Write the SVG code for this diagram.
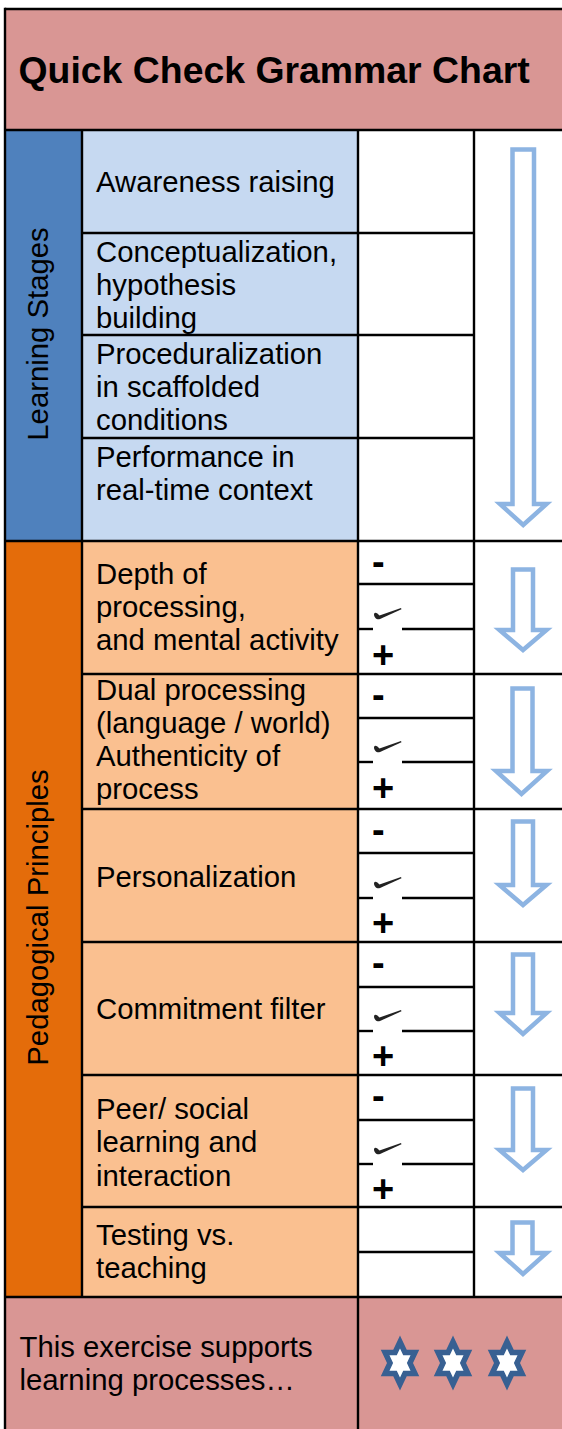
<svg xmlns="http://www.w3.org/2000/svg" xmlns:xlink="http://www.w3.org/1999/xlink" width="562" height="1429" viewBox="0 0 562 1429">
<style>
.ln{stroke:#000;stroke-width:2.4;fill:none}
.t{font-family:"Liberation Sans",Arial,sans-serif;font-size:29.3px;fill:#000}
.ttl{font-family:"Liberation Sans",Arial,sans-serif;font-size:37.4px;font-weight:bold;fill:#000}
.sym{font-family:"Liberation Sans",Arial,sans-serif;font-size:38px;font-weight:bold;fill:#000}
.arr{fill:#fff;stroke:#8DB4E2;stroke-width:4.5;stroke-linejoin:miter}
.star{fill:#fff;stroke:#376092;stroke-width:5.5;stroke-linejoin:miter}
.chk{fill:#222}
</style>
<defs>
<filter id="soft" x="-20%" y="-20%" width="140%" height="140%"><feGaussianBlur stdDeviation="0.7"/></filter>
<path id="starP" d="M0,-21 L4.97,-10.5 L14.9,-10.5 L9.94,0 L14.9,10.5 L4.97,10.5 L0,21 L-4.97,10.5 L-14.9,10.5 L-9.94,0 L-14.9,-10.5 L-4.97,-10.5 Z"/>
<path id="chkP" class="chk" d="M1,-15 C2,-17.5 4.5,-15.5 6.5,-13.5 L28,-21 L28.5,-19.8 L7,-10 C4,-9 1,-11 1,-15 Z"/>
</defs>

<rect x="0" y="0" width="562" height="1429" fill="#fff"/>

<g id="header">
<rect x="5" y="9" width="560" height="121" fill="#D99694"/>
<text class="ttl" x="18.5" y="83">Quick Check Grammar Chart</text>
</g>

<g id="learning-stages">
<rect x="5" y="130" width="77" height="411" fill="#4F81BD"/>
<rect x="82" y="130" width="276" height="411" fill="#C6D9F1"/>
<text class="t" transform="translate(47.5,334) rotate(-90)" text-anchor="middle">Learning Stages</text>
</g>

<g id="stage-awareness">
<text class="t" x="96" y="192">Awareness raising</text>
</g>
<g id="stage-conceptualization">
<text class="t" x="96" y="262">Conceptualization,</text>
<text class="t" x="96" y="295">hypothesis</text>
<text class="t" x="96" y="328">building</text>
</g>
<g id="stage-proceduralization">
<text class="t" x="96" y="364">Proceduralization</text>
<text class="t" x="96" y="397">in scaffolded</text>
<text class="t" x="96" y="430">conditions</text>
</g>
<g id="stage-performance">
<text class="t" x="96" y="467">Performance in</text>
<text class="t" x="96" y="500">real-time context</text>
</g>

<g id="pedagogical-principles">
<rect x="5" y="541" width="77" height="756" fill="#E46C0A"/>
<rect x="82" y="541" width="276" height="756" fill="#FAC090"/>
<text class="t" transform="translate(48,917.5) rotate(-90)" text-anchor="middle">Pedagogical Principles</text>
</g>

<g id="principle-depth">
<text class="t" x="96" y="584">Depth of</text>
<text class="t" x="96" y="617">processing,</text>
<text class="t" x="96" y="650">and mental activity</text>
</g>
<g id="principle-dual">
<text class="t" x="96" y="700">Dual processing</text>
<text class="t" x="96" y="733">(language / world)</text>
<text class="t" x="96" y="766">Authenticity of</text>
<text class="t" x="96" y="799">process</text>
</g>
<g id="principle-personalization">
<text class="t" x="96" y="887">Personalization</text>
</g>
<g id="principle-commitment">
<text class="t" x="96" y="1019">Commitment filter</text>
</g>
<g id="principle-peer">
<text class="t" x="96" y="1119">Peer/ social</text>
<text class="t" x="96" y="1152">learning and</text>
<text class="t" x="96" y="1186">interaction</text>
</g>
<g id="principle-testing">
<text class="t" x="96" y="1245">Testing vs.</text>
<text class="t" x="96" y="1278">teaching</text>
</g>

<g id="footer">
<rect x="5" y="1297" width="560" height="132" fill="#D99694"/>
<text class="t" x="19.5" y="1357">This exercise supports</text>
<text class="t" x="19.5" y="1390">learning processes…</text>
<g filter="url(#soft)">
<use xlink:href="#starP" class="star" transform="translate(400,1363)"/>
<use xlink:href="#starP" class="star" transform="translate(453,1363)"/>
<use xlink:href="#starP" class="star" transform="translate(507,1363)"/>
</g>
</g>

<g id="grid">
<line class="ln" x1="5" y1="7.8" x2="5" y2="1429"/>
<line class="ln" x1="5" y1="9" x2="562" y2="9"/>
<line class="ln" x1="5" y1="130" x2="562" y2="130"/>
<line class="ln" x1="82" y1="130" x2="82" y2="1297"/>
<line class="ln" x1="358" y1="130" x2="358" y2="1429"/>
<line class="ln" x1="474" y1="130" x2="474" y2="1297"/>
<line class="ln" x1="5" y1="541" x2="562" y2="541"/>
<line class="ln" x1="5" y1="1297" x2="562" y2="1297"/>
<line class="ln" x1="82" y1="233" x2="474" y2="233"/>
<line class="ln" x1="82" y1="335" x2="474" y2="335"/>
<line class="ln" x1="82" y1="438" x2="474" y2="438"/>
<line class="ln" x1="82" y1="674" x2="562" y2="674"/>
<line class="ln" x1="82" y1="809" x2="562" y2="809"/>
<line class="ln" x1="82" y1="942" x2="562" y2="942"/>
<line class="ln" x1="82" y1="1075" x2="562" y2="1075"/>
<line class="ln" x1="82" y1="1207" x2="562" y2="1207"/>
<line class="ln" x1="358" y1="584" x2="474" y2="584"/>
<line class="ln" x1="358" y1="718" x2="474" y2="718"/>
<line class="ln" x1="358" y1="853" x2="474" y2="853"/>
<line class="ln" x1="358" y1="987" x2="474" y2="987"/>
<line class="ln" x1="358" y1="1120" x2="474" y2="1120"/>
<line class="ln" x1="358" y1="1252" x2="474" y2="1252"/>
<line class="ln" x1="358" y1="629" x2="373" y2="629"/><line class="ln" x1="402" y1="629" x2="474" y2="629"/>
<line class="ln" x1="358" y1="762" x2="373" y2="762"/><line class="ln" x1="402" y1="762" x2="474" y2="762"/>
<line class="ln" x1="358" y1="898" x2="373" y2="898"/><line class="ln" x1="402" y1="898" x2="474" y2="898"/>
<line class="ln" x1="358" y1="1031" x2="373" y2="1031"/><line class="ln" x1="402" y1="1031" x2="474" y2="1031"/>
<line class="ln" x1="358" y1="1164" x2="373" y2="1164"/><line class="ln" x1="402" y1="1164" x2="474" y2="1164"/>
</g>

<g id="ratings">
<text class="sym" x="372" y="575">-</text>
<use xlink:href="#chkP" filter="url(#soft)" transform="translate(373,629)"/>
<text class="sym" x="372" y="667.5">+</text>
<text class="sym" x="372" y="708">-</text>
<use xlink:href="#chkP" filter="url(#soft)" transform="translate(373,762)"/>
<text class="sym" x="372" y="800.5">+</text>
<text class="sym" x="372" y="843">-</text>
<use xlink:href="#chkP" filter="url(#soft)" transform="translate(373,898)"/>
<text class="sym" x="372" y="935.5">+</text>
<text class="sym" x="372" y="976">-</text>
<use xlink:href="#chkP" filter="url(#soft)" transform="translate(373,1031)"/>
<text class="sym" x="372" y="1068.5">+</text>
<text class="sym" x="372" y="1109">-</text>
<use xlink:href="#chkP" filter="url(#soft)" transform="translate(373,1164)"/>
<text class="sym" x="372" y="1201.5">+</text>
</g>

<g id="connectors">
<path class="arr" d="M512.5,149.5 H534 V504 H546.5 L523.2,525 L500,504 H512.5 Z"/>
<path class="arr" d="M513,569.5 H533 V630 H546.5 L523,650 L499.5,630 H513 Z"/>
<path class="arr" d="M512.5,688.5 H532.5 V771 H547 L521.5,794 L496,771 H512.5 Z"/>
<path class="arr" d="M513,821.5 H533 V885 H546.5 L523,905 L499.5,885 H513 Z"/>
<path class="arr" d="M513,954.5 H533 V1013 H546.5 L523,1034 L499.5,1013 H513 Z"/>
<path class="arr" d="M513,1088.5 H533 V1150 H546.5 L523,1170 L499.5,1150 H513 Z"/>
<path class="arr" d="M512.5,1222.5 H532.5 V1253 H546.5 L523,1274 L499.5,1253 H512.5 Z"/>
</g>
</svg>
